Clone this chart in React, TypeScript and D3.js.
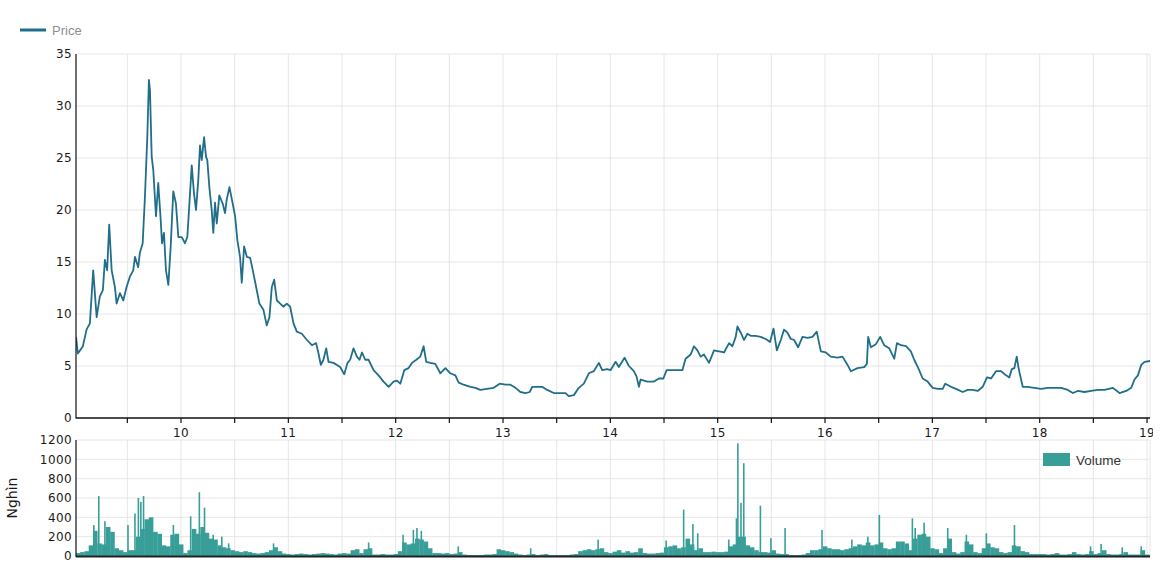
import React from "react";
import * as d3 from "d3";

// Price series: [decimal year (20xx), price]
const PRICE: [number, number][] = [
[9.022,7.8],[9.039,6.2],[9.086,6.9],[9.120,8.5],[9.151,9.1],[9.182,14.2],[9.214,9.7],[9.244,11.7],[9.272,12.3],[9.291,15.2],[9.312,14.2],[9.331,18.6],[9.354,14.2],[9.384,12.6],[9.400,11.0],[9.431,12.0],[9.462,11.3],[9.493,12.6],[9.524,13.6],[9.555,14.2],[9.571,15.5],[9.601,14.5],[9.617,15.9],[9.643,16.8],[9.664,21.3],[9.686,27.0],[9.701,32.5],[9.711,31.5],[9.727,25.1],[9.742,23.8],[9.767,19.4],[9.788,22.6],[9.811,19.0],[9.823,16.8],[9.841,17.8],[9.860,14.2],[9.882,12.8],[9.904,16.5],[9.928,21.8],[9.953,20.6],[9.975,17.4],[10.007,17.4],[10.037,16.8],[10.059,17.4],[10.084,21.6],[10.100,24.3],[10.121,21.6],[10.140,20.0],[10.161,22.9],[10.177,26.2],[10.193,24.8],[10.215,27.0],[10.233,25.1],[10.245,24.8],[10.264,22.2],[10.286,20.0],[10.301,17.8],[10.317,20.7],[10.333,18.7],[10.357,21.4],[10.389,20.6],[10.410,19.7],[10.426,21.0],[10.451,22.2],[10.482,20.6],[10.504,19.4],[10.525,17.1],[10.550,15.5],[10.566,13.0],[10.588,16.5],[10.613,15.5],[10.644,15.4],[10.669,14.2],[10.700,12.6],[10.730,11.0],[10.768,10.4],[10.799,8.9],[10.824,9.7],[10.846,12.6],[10.868,13.3],[10.893,11.3],[10.924,11.0],[10.954,10.7],[10.986,11.0],[11.017,10.7],[11.048,9.1],[11.079,8.3],[11.126,8.1],[11.173,7.5],[11.219,7.0],[11.259,7.2],[11.281,6.2],[11.303,5.1],[11.327,5.6],[11.353,6.7],[11.374,5.4],[11.421,5.3],[11.483,4.9],[11.521,4.2],[11.551,5.3],[11.576,5.6],[11.607,6.7],[11.639,5.9],[11.663,5.6],[11.686,6.3],[11.716,5.6],[11.747,5.6],[11.794,4.6],[11.840,4.1],[11.887,3.5],[11.934,3.0],[11.980,3.5],[12.012,3.6],[12.043,3.3],[12.080,4.6],[12.120,4.8],[12.152,5.3],[12.192,5.6],[12.229,5.9],[12.260,6.9],[12.285,5.4],[12.323,5.3],[12.369,5.2],[12.416,4.3],[12.463,4.8],[12.509,4.3],[12.556,4.1],[12.587,3.4],[12.633,3.2],[12.696,3.0],[12.743,2.9],[12.789,2.7],[12.852,2.8],[12.913,2.9],[12.969,3.3],[13.022,3.2],[13.069,3.2],[13.116,2.9],[13.162,2.5],[13.209,2.4],[13.249,2.5],[13.272,3.0],[13.318,3.0],[13.365,3.0],[13.411,2.7],[13.473,2.4],[13.535,2.4],[13.582,2.4],[13.613,2.1],[13.660,2.2],[13.706,2.9],[13.753,3.3],[13.800,4.3],[13.846,4.5],[13.893,5.3],[13.924,4.6],[13.971,4.7],[14.002,4.6],[14.049,5.4],[14.079,4.9],[14.132,5.8],[14.173,5.0],[14.219,4.5],[14.244,4.0],[14.266,3.0],[14.282,3.7],[14.344,3.5],[14.406,3.5],[14.453,3.8],[14.494,3.8],[14.524,4.6],[14.577,4.6],[14.624,4.6],[14.671,4.6],[14.701,5.7],[14.748,6.1],[14.779,6.9],[14.811,6.5],[14.841,5.9],[14.872,6.1],[14.919,5.3],[14.966,6.5],[15.012,6.4],[15.059,6.3],[15.106,7.2],[15.137,6.9],[15.168,7.8],[15.184,8.8],[15.215,8.2],[15.245,7.5],[15.277,8.1],[15.308,7.9],[15.354,7.9],[15.401,7.8],[15.448,7.6],[15.488,7.3],[15.520,8.6],[15.551,6.5],[15.588,7.5],[15.618,8.5],[15.650,8.2],[15.681,7.6],[15.712,7.5],[15.749,6.8],[15.790,7.8],[15.837,7.7],[15.883,7.8],[15.923,8.3],[15.961,6.4],[16.007,6.3],[16.054,5.9],[16.117,5.8],[16.163,5.9],[16.210,5.1],[16.240,4.5],[16.303,4.8],[16.365,4.9],[16.390,5.2],[16.402,7.8],[16.427,6.8],[16.474,7.1],[16.514,7.8],[16.551,7.0],[16.598,6.7],[16.645,5.7],[16.670,7.2],[16.707,7.0],[16.754,6.9],[16.800,6.4],[16.831,5.6],[16.869,4.8],[16.910,3.8],[16.956,3.5],[17.003,2.9],[17.049,2.8],[17.096,2.8],[17.120,3.3],[17.174,3.0],[17.220,2.8],[17.283,2.5],[17.330,2.7],[17.376,2.7],[17.423,2.6],[17.469,3.0],[17.509,3.9],[17.547,3.8],[17.593,4.5],[17.640,4.5],[17.687,4.1],[17.717,3.9],[17.740,4.7],[17.764,4.8],[17.786,5.9],[17.805,4.7],[17.842,3.0],[17.889,3.0],[17.950,2.9],[18.013,2.8],[18.076,2.9],[18.137,2.9],[18.200,2.9],[18.262,2.7],[18.309,2.4],[18.355,2.6],[18.417,2.5],[18.479,2.6],[18.542,2.7],[18.604,2.7],[18.682,2.9],[18.744,2.4],[18.806,2.6],[18.853,2.9],[18.883,3.7],[18.915,4.1],[18.946,5.1],[18.977,5.4],[19.039,5.5]
];

// Volume (thousand shares), one value per 0.04-year bucket starting at 2009.02
const VOLUME_START = 9.02;
const VOLUME_STEP = 0.04;
const VOLUME: number[] = [
30,40,50,110,260,130,120,300,250,80,
60,40,60,60,200,280,380,400,250,230,
110,100,220,230,120,30,60,280,230,300,
240,180,170,110,90,80,60,50,40,50,
40,30,25,30,40,60,90,50,25,20,
15,20,25,20,15,20,25,30,25,20,
15,25,30,25,60,70,30,70,80,15,
15,20,15,15,20,50,140,120,130,180,
170,150,80,30,30,25,30,20,25,40,
15,10,10,10,10,15,15,20,70,60,
50,40,25,15,10,15,20,10,15,20,
10,10,10,10,10,15,20,50,60,70,
60,70,80,40,30,45,60,35,50,35,
40,80,30,25,25,30,35,90,100,110,
80,90,180,120,60,80,40,40,45,40,
40,45,100,120,200,200,110,90,60,40,
40,35,60,25,20,20,10,10,10,15,
30,60,60,70,100,80,70,70,60,70,
80,100,120,110,140,110,120,140,80,70,
80,150,150,130,60,180,220,230,200,80,
70,30,80,180,40,25,40,150,120,40,
30,80,130,90,80,40,30,40,110,100,
50,40,20,20,20,20,15,20,30,15,
15,20,40,20,15,20,50,20,30,60,
20,15,15,20,40,15,15,15,60,15,10
];

// Single-day volume spikes: [decimal year, volume]
const VOLUME_SPIKES: [number, number][] = [
[9.188,320],[9.234,620],[9.291,360],[9.506,320],[9.571,440],[9.603,600],[9.626,560],[9.651,620],
[9.929,320],[10.090,410],[10.171,660],[10.219,500],[10.300,220],[10.380,200],[10.444,130],[10.862,130],
[11.748,140],[12.069,220],[12.165,270],[12.198,290],[12.239,260],[12.583,100],[13.258,80],[13.886,170],
[14.520,160],[14.683,480],[14.769,330],[14.814,235],[15.103,170],[15.175,390],[15.188,1165],[15.217,550],
[15.243,960],[15.398,520],[15.496,185],[15.628,290],[15.972,270],[16.250,170],[16.399,200],[16.506,425],
[16.814,390],[16.840,290],[16.923,345],[17.143,290],[17.317,220],[17.503,235],[17.765,320],[18.474,100],
[18.572,125],[18.769,90],[18.946,100]
];

const YEAR_LABELS = [10, 11, 12, 13, 14, 15, 16, 17, 18, 19];
const PRICE_TICKS = [0, 5, 10, 15, 20, 25, 30, 35];
const VOLUME_TICKS = [0, 200, 400, 600, 800, 1000, 1200];

const PRICE_COLOR = "#216e8a";
const VOLUME_COLOR = "#389e98";
const GRID = "#e6e6e6";
const TICK_FONT = "'DejaVu Sans', Verdana, sans-serif";

export default function App() {
  const left = 76, right = 1150;
  const x = d3.scaleLinear().domain([9.0217, 19.0277]).range([left, right]);
  const yP = d3.scaleLinear().domain([0, 35]).range([418, 54]);
  const yV = d3.scaleLinear().domain([0, 1200]).range([556, 440]);

  const halfYears = d3.range(9.5, 19.01, 0.5);
  const line = d3.line<[number, number]>().x(d => x(d[0])).y(d => yP(d[1]));
  const stepPx = x(VOLUME_START + VOLUME_STEP) - x(VOLUME_START);

  return (
    <svg width={1153} height={568} style={{ position: "absolute", left: 0, top: 0, background: "#fff" }}>
      <defs>
        <clipPath id="clipP"><rect x={left} y={54} width={right - left} height={364} /></clipPath>
        <clipPath id="clipV"><rect x={left} y={440} width={right - left} height={116} /></clipPath>
      </defs>

      {/* legend price */}
      <line x1={20} x2={46} y1={30} y2={30} stroke={PRICE_COLOR} strokeWidth={3} />
      <text x={52} y={35} fontFamily="'Liberation Sans', Arial, sans-serif" fontSize={13} fill="#8a8f96">Price</text>

      {/* price grid */}
      {PRICE_TICKS.filter(t => t > 0).map(t => (
        <line key={"hp" + t} x1={left} x2={right} y1={yP(t)} y2={yP(t)} stroke={GRID} />
      ))}
      {halfYears.map(t => (
        <line key={"vp" + t} x1={x(t)} x2={x(t)} y1={54} y2={418} stroke={GRID} />
      ))}
      <line x1={right} x2={right} y1={54} y2={418} stroke={GRID} />

      {/* price line */}
      <path d={line(PRICE) || ""} fill="none" stroke={PRICE_COLOR} strokeWidth={1.8} strokeLinejoin="round" clipPath="url(#clipP)" />

      {/* price axes */}
      <line x1={left} x2={left} y1={54} y2={418.5} stroke="#111" strokeWidth={1.2} />
      <line x1={left} x2={right} y1={418} y2={418} stroke="#111" strokeWidth={1.5} />
      {halfYears.map(t => (
        <line key={"tk" + t} x1={x(t)} x2={x(t)} y1={418} y2={423} stroke="#111" strokeWidth={1.2} />
      ))}
      {YEAR_LABELS.map(t => (
        <text key={"xl" + t} x={x(t)} y={437} textAnchor="middle" fontFamily={TICK_FONT} fontSize={12} fill="#1a1a1a" letterSpacing={0.4}>{t}</text>
      ))}
      {PRICE_TICKS.map(t => (
        <text key={"yl" + t} x={72} y={yP(t)} dy="0.35em" textAnchor="end" fontFamily={TICK_FONT} fontSize={12} fill="#1a1a1a" letterSpacing={0.4}>{t}</text>
      ))}

      {/* volume grid */}
      {VOLUME_TICKS.filter(t => t > 0).map(t => (
        <line key={"hv" + t} x1={left} x2={right} y1={yV(t)} y2={yV(t)} stroke={GRID} />
      ))}
      {halfYears.map(t => (
        <line key={"vv" + t} x1={x(t)} x2={x(t)} y1={440} y2={556} stroke={GRID} />
      ))}
      <line x1={right} x2={right} y1={440} y2={556} stroke={GRID} />

      {/* volume bars */}
      <g clipPath="url(#clipV)" fill={VOLUME_COLOR}>
        {VOLUME.map((v, i) => {
          const x0 = x(VOLUME_START + i * VOLUME_STEP);
          return <rect key={"vb" + i} x={x0} y={yV(v)} width={stepPx + 0.3} height={yV(0) - yV(v)} />;
        })}
        {VOLUME_SPIKES.map(([t, v], i) => (
          <rect key={"vs" + i} x={x(t) - 0.8} y={yV(v)} width={1.6} height={yV(0) - yV(v)} />
        ))}
      </g>

      {/* volume axes */}
      <line x1={left} x2={left} y1={440} y2={557} stroke="#111" strokeWidth={1.2} />
      <line x1={left} x2={right} y1={556.5} y2={556.5} stroke="#222" strokeWidth={2} />
      {VOLUME_TICKS.map(t => (
        <text key={"vl" + t} x={72} y={yV(t)} dy="0.35em" textAnchor="end" fontFamily={TICK_FONT} fontSize={12} fill="#1a1a1a" letterSpacing={0.4}>{t}</text>
      ))}
      <text transform="translate(17,498) rotate(-90)" textAnchor="middle" fontFamily={TICK_FONT} fontSize={14} fill="#1a1a1a">Nghìn</text>

      {/* volume legend */}
      <rect x={1043} y={453} width={27} height={13} fill={VOLUME_COLOR} />
      <text x={1076} y={465} fontFamily="'Liberation Sans', Arial, sans-serif" fontSize={13.5} fill="#333">Volume</text>
    </svg>
  );
}
